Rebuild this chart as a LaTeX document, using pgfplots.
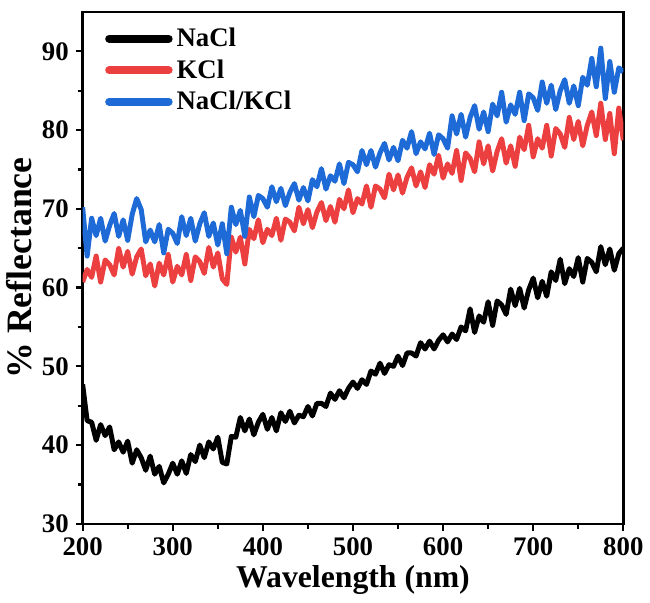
\documentclass[border=0pt]{standalone}
\usepackage{fontspec}
\setmainfont{Liberation Serif}
\usepackage{pgfplots}
\pgfplotsset{compat=1.18}
\definecolor{cRed}{RGB}{236,64,64}
\definecolor{cBlue}{RGB}{30,106,214}
\begin{document}
\begin{tikzpicture}
\begin{axis}[
  scale only axis,
  width=272.5pt, height=258pt,
  xmin=200, xmax=800, ymin=30, ymax=95,
  xtick={200,300,...,800}, ytick={30,40,...,90},
  minor x tick num=1, minor y tick num=1,
  tick pos=left, tick align=outside,
  major tick length=3.5pt, minor tick length=2.5pt,
  tick style={black, line width=1.1pt},
  axis line style={line width=1.3pt},
  /pgf/number format/assume math mode=true,
  ticklabel style={font=\fontsize{13.5}{13.5}\selectfont\bfseries},
  xlabel={Wavelength (nm)},
  ylabel={\% Reflectance},
  xlabel style={font=\fontsize{16}{16}\selectfont\bfseries, yshift=2pt},
  ylabel style={font=\fontsize{18}{18}\selectfont\bfseries, yshift=-2pt},
  legend style={at={(axis description cs:0.03,0.985)}, anchor=north west, draw=none, fill=none,
    font=\fontsize{13.5}{13.5}\selectfont\bfseries, row sep=1pt},
  legend cell align=left,
  legend image code/.code={\draw[#1, line width=4pt, line cap=round] (0pt,0pt) -- (30pt,0pt);},
  every axis plot/.append style={line width=2.5pt, line join=round},
]
\addplot[black] coordinates {
(200,47.7)(205,43.1)(210,42.9)(215,40.6)(220,42.6)(225,41.2)(230,42.3)(235,39.4)(240,40.4)(245,39.1)
(250,40.5)(255,37.7)(260,39.4)(265,38.4)(270,36.8)(275,38.6)(280,36.3)(285,37.3)(290,35.2)(295,36.3)
(300,37.7)(305,36.3)(310,38.0)(315,36.4)(320,38.8)(325,37.9)(330,40.0)(335,38.4)(340,40.4)(345,39.5)
(350,41.0)(355,37.8)(360,37.6)(365,41.1)(370,41.0)(375,43.5)(380,41.8)(385,43.3)(390,41.3)(395,42.9)
(400,43.9)(405,42.0)(410,43.5)(415,41.8)(420,44.1)(425,43.0)(430,44.3)(435,42.8)(440,43.8)(445,43.6)
(450,44.9)(455,43.7)(460,45.3)(465,45.3)(470,44.9)(475,46.6)(480,45.8)(485,46.9)(490,46.0)(495,47.2)
(500,48.0)(505,47.2)(510,48.3)(515,47.7)(520,49.4)(525,49.0)(530,50.4)(535,49.1)(540,50.2)(545,50.0)
(550,51.3)(555,50.1)(560,51.7)(565,51.7)(570,51.3)(575,53.0)(580,52.2)(585,53.2)(590,52.2)(595,53.3)
(600,54.0)(605,53.1)(610,54.1)(615,53.4)(620,55.0)(625,54.5)(630,57.3)(635,54.3)(640,56.4)(645,55.6)
(650,58.2)(655,55.2)(660,58.3)(665,57.8)(670,56.6)(675,59.8)(680,57.7)(685,59.9)(690,57.4)(695,59.7)
(700,61.2)(705,58.7)(710,60.8)(715,58.9)(720,62.0)(725,60.9)(730,63.6)(735,60.5)(740,62.4)(745,61.4)
(750,63.8)(755,60.7)(760,63.7)(765,63.2)(770,62.0)(775,65.2)(780,62.9)(785,64.9)(790,62.2)(795,64.3)
(800,65.0)
};
\addlegendentry{NaCl}
\addplot[cRed] coordinates {
(200,60.7)(205,62.3)(210,61.3)(215,64.0)(220,60.7)(225,63.5)(230,62.9)(235,61.6)(240,65.0)(245,62.6)
(250,64.6)(255,61.7)(260,63.9)(265,64.9)(270,61.5)(275,63.0)(280,60.2)(285,63.1)(290,61.6)(295,64.2)
(300,60.7)(305,62.7)(310,61.6)(315,64.2)(320,60.9)(325,63.9)(330,63.3)(335,61.8)(340,65.1)(345,62.6)
(350,64.4)(355,61.1)(360,60.4)(365,66.4)(370,64.5)(375,66.4)(380,63.0)(385,67.4)(390,66.2)(395,68.6)
(400,65.7)(405,67.4)(410,66.6)(415,68.8)(420,66.0)(425,68.7)(430,68.3)(435,67.2)(440,70.2)(445,68.1)
(450,69.9)(455,67.6)(460,69.6)(465,70.8)(470,68.5)(475,70.3)(480,68.3)(485,71.2)(490,70.0)(495,72.4)
(500,69.5)(505,71.3)(510,70.6)(515,72.9)(520,70.2)(525,72.9)(530,72.5)(535,71.4)(540,74.4)(545,72.4)
(550,74.3)(555,72.0)(560,74.0)(565,75.2)(570,72.9)(575,74.7)(580,72.7)(585,75.6)(590,74.4)(595,76.8)
(600,73.9)(605,75.7)(610,74.5)(615,77.4)(620,73.6)(625,77.1)(630,76.4)(635,74.7)(640,78.5)(645,75.7)
(650,78.0)(655,74.8)(660,77.3)(665,78.9)(670,75.8)(675,78.0)(680,75.4)(685,79.1)(690,77.5)(695,80.6)
(700,76.6)(705,78.9)(710,77.7)(715,80.6)(720,76.7)(725,80.2)(730,79.5)(735,77.8)(740,81.6)(745,78.8)
(750,81.1)(755,78.0)(760,80.6)(765,82.3)(770,79.3)(775,83.4)(780,78.8)(785,82.1)(790,77.0)(795,82.8)
(800,78.7)
};
\addlegendentry{KCl}
\addplot[cBlue] coordinates {
(200,70.2)(205,64.0)(210,68.8)(215,66.6)(220,68.8)(225,65.9)(230,67.9)(235,69.4)(240,66.5)(245,68.6)
(250,66.0)(255,69.3)(260,71.3)(265,69.9)(270,65.8)(275,67.3)(280,65.8)(285,68.0)(290,64.4)(295,67.4)
(300,66.9)(305,65.6)(310,69.0)(315,66.6)(320,68.8)(325,65.9)(330,68.1)(335,69.5)(340,66.5)(345,68.2)
(350,65.4)(355,68.1)(360,64.3)(365,70.2)(370,68.0)(375,69.8)(380,66.5)(385,71.5)(390,69.0)(395,71.7)
(400,71.3)(405,70.2)(410,72.8)(415,70.9)(420,72.6)(425,70.4)(430,72.1)(435,73.2)(440,71.1)(445,72.7)
(450,71.0)(455,73.7)(460,72.8)(465,75.1)(470,72.5)(475,74.2)(480,73.5)(485,75.7)(490,73.2)(495,75.9)
(500,75.6)(505,74.7)(510,77.4)(515,75.6)(520,77.4)(525,75.3)(530,77.1)(535,78.3)(540,76.2)(545,77.8)
(550,76.1)(555,78.7)(560,77.7)(565,79.8)(570,77.0)(575,78.5)(580,77.6)(585,79.6)(590,76.9)(595,79.4)
(600,78.9)(605,77.7)(610,81.8)(615,79.5)(620,82.0)(625,79.1)(630,81.6)(635,83.1)(640,80.1)(645,82.3)
(650,79.8)(655,83.3)(660,81.8)(665,84.8)(670,81.0)(675,83.2)(680,82.0)(685,84.8)(690,81.2)(695,84.6)
(700,84.1)(705,82.5)(710,86.1)(715,83.4)(720,85.7)(725,82.6)(730,85.0)(735,86.4)(740,83.4)(745,85.6)
(750,83.1)(755,86.7)(760,85.7)(765,89.1)(770,85.5)(775,90.4)(780,84.0)(785,88.7)(790,84.8)(795,87.9)
(800,87.4)
};
\addlegendentry{NaCl/KCl}
\end{axis}
\path (-41.5pt,-39.5pt) rectangle (283.5pt,264pt);
\end{tikzpicture}
\end{document}
